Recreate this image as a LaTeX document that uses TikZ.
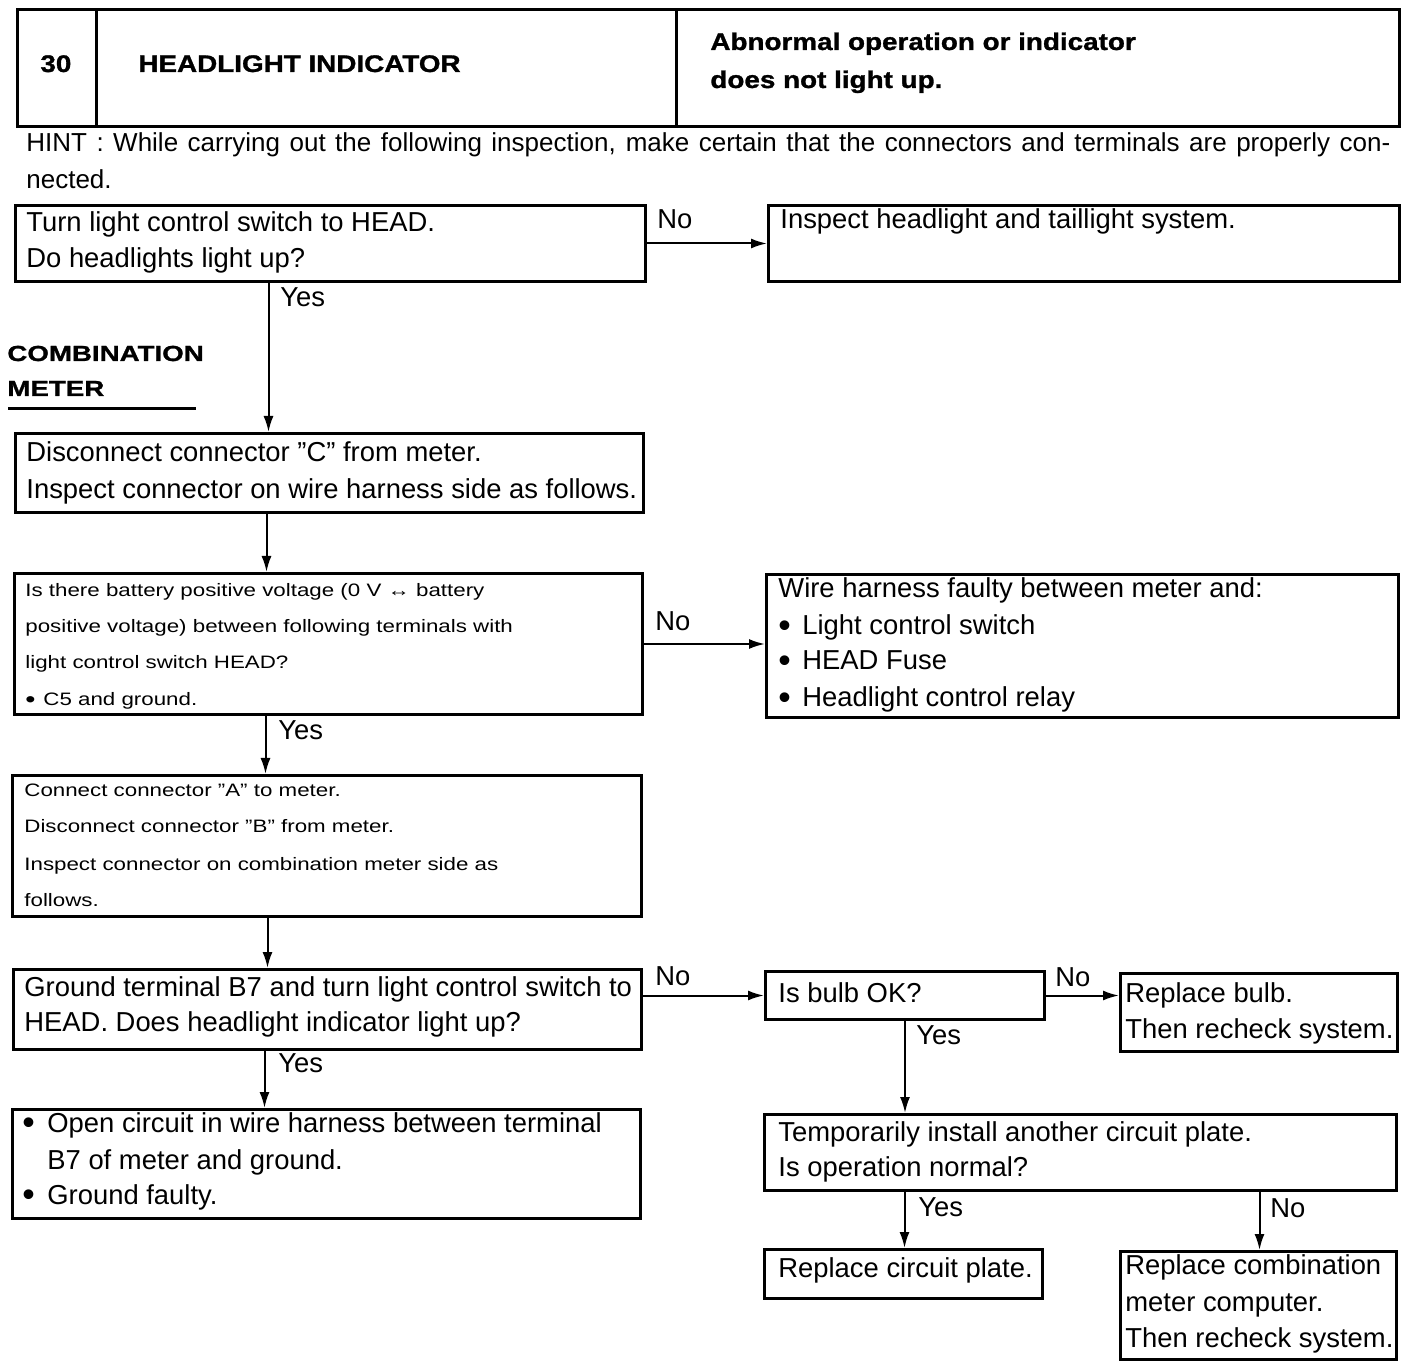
\documentclass[tikz,border=0pt]{standalone}
\usepackage{fontspec}
\usepackage{graphicx}
\setmainfont{Liberation Sans}
\newfontfamily\smallf[FakeStretch=1.24]{Liberation Sans}
\newfontfamily\boldf[FakeStretch=1.16,FakeBold=1.2]{Liberation Sans}
\newfontfamily\widef[FakeStretch=1.27,FakeBold=1.2]{Liberation Sans}
\newcommand\bul{\raisebox{-0.08em}{\scalebox{1.3}{•}}}
\usetikzlibrary{arrows.meta}
\tikzset{
  txt/.style={anchor=base west, inner sep=0pt, font=\fontsize{13.7}{18}\selectfont},
  stxt/.style={anchor=base west, inner sep=0pt, font=\smallf\fontsize{9}{18}\selectfont},
  btxt/.style={anchor=base west, inner sep=0pt, font=\boldf\bfseries\fontsize{12}{18}\selectfont},
  box/.style={draw, line width=1.5pt, inner sep=0pt, anchor=north west},
  arr/.style={line width=1pt, -{Latex[length=8pt,width=5pt]}},
}
\begin{document}
\begin{tikzpicture}[x=0.5pt,y=-0.5pt]
\fill[white] (0,0) rectangle (1408,1368);
\useasboundingbox (0,0) rectangle (1408,1368);

% header table
\node[box, minimum width=39.5pt, minimum height=58.5pt] (h1) at (16,8) {};
\node[box, minimum width=290pt, minimum height=58.5pt] (h2) at (95,8) {};
\node[box, minimum width=361.5pt, minimum height=58.5pt] (h3) at (675,8) {};
\node[btxt] (h1t) at (40,72) {30};
\node[btxt] (h2t) at (138,72) {HEADLIGHT INDICATOR};
\node[btxt] (h3a) at (710,50) {Abnormal operation or indicator};
\node[btxt] (h3b) at (710,88) {does not light up.};

% hint
\node[txt, font=\fontsize{13}{18}\selectfont] (hint1) at (26,152) {\makebox[682pt][s]{HINT : While carrying out the following inspection, make certain that the connectors and terminals are properly con-}};
\node[txt, font=\fontsize{13}{18}\selectfont] (hint2) at (26,189) {nected.};

% combination meter heading
\node[anchor=base west, inner sep=0pt, font=\widef\bfseries\fontsize{10.9}{18}\selectfont] (cm1) at (7,361) {COMBINATION};
\node[anchor=base west, inner sep=0pt, font=\widef\bfseries\fontsize{10.9}{18}\selectfont] (cm2) at (7,396) {METER};
\coordinate (ul1) at (8,409);
\coordinate (ul2) at (196,409);
\draw[line width=1.5pt] (ul1) -- (ul2);

% boxes
\node[box, minimum width=315pt, minimum height=38pt] (b1) at (14,204) {};
\node[box, minimum width=315.5pt, minimum height=38pt] (b2) at (767,204) {};
\node[box, minimum width=314pt, minimum height=39.5pt] (b3) at (14,432) {};
\node[box, minimum width=314pt, minimum height=70.5pt] (b4) at (13,572) {};
\node[box, minimum width=316pt, minimum height=71.5pt] (b5) at (765,573) {};
\node[box, minimum width=314.5pt, minimum height=70.5pt] (b6) at (11,774) {};
\node[box, minimum width=314pt, minimum height=40pt] (b7) at (12,968) {};
\node[box, minimum width=139.5pt, minimum height=24pt] (b8) at (764,970) {};
\node[box, minimum width=138.5pt, minimum height=39pt] (b9) at (1119,972) {};
\node[box, minimum width=316pt, minimum height=38pt] (b10) at (763,1113) {};
\node[box, minimum width=139pt, minimum height=24.5pt] (b11) at (763,1248) {};
\node[box, minimum width=138pt, minimum height=54pt] (b12) at (1119,1250) {};
\node[box, minimum width=314pt, minimum height=54.5pt] (b13) at (11,1108) {};

% texts
\node[txt] (t1a) at (26,232) {Turn light control switch to HEAD.};
\node[txt] (t1b) at (26,268) {Do headlights light up?};
\node[txt] (t2a) at (780,229) {Inspect headlight and taillight system.};
\node[txt] (t3a) at (26,462) {Disconnect connector ”C” from meter.};
\node[txt] (t3b) at (26,499) {Inspect connector on wire harness side as follows.};
\node[stxt] (t4a) at (25,597) {Is there battery positive voltage (0 V ↔ battery};
\node[stxt] (t4b) at (25,633) {positive voltage) between following terminals with};
\node[stxt] (t4c) at (25,669) {light control switch HEAD?};
\node[stxt] (t4d) at (25,706) {\makebox[9pt][l]{\bul}C5 and ground.};
\node[txt] (t5a) at (778,598) {Wire harness faulty between meter and:};
\node[txt] (t5b) at (778,635) {\makebox[12pt][l]{\bul}Light control switch};
\node[txt] (t5c) at (778,670) {\makebox[12pt][l]{\bul}HEAD Fuse};
\node[txt] (t5d) at (778,707) {\makebox[12pt][l]{\bul}Headlight control relay};
\node[stxt] (t6a) at (24,797) {Connect connector ”A” to meter.};
\node[stxt] (t6b) at (24,833) {Disconnect connector ”B” from meter.};
\node[stxt] (t6c) at (24,870) {Inspect connector on combination meter side as};
\node[stxt] (t6d) at (24,906) {follows.};
\node[txt] (t7a) at (24,996) {Ground terminal B7 and turn light control switch to};
\node[txt] (t7b) at (24,1031) {HEAD. Does headlight indicator light up?};
\node[txt] (t8a) at (778,1002) {Is bulb OK?};
\node[txt] (t9a) at (1125,1002) {Replace bulb.};
\node[txt] (t9b) at (1125,1038) {Then recheck system.};
\node[txt] (t10a) at (778,1141) {Temporarily install another circuit plate.};
\node[txt] (t10b) at (778,1176) {Is operation normal?};
\node[txt] (t11a) at (778,1277) {Replace circuit plate.};
\node[txt] (t12a) at (1125,1274) {Replace combination};
\node[txt] (t12b) at (1125,1311) {meter computer.};
\node[txt] (t12c) at (1125,1347) {Then recheck system.};
\node[txt] (t13a) at (22,1132) {\bul};
\node[txt] (t13b) at (47,1132) {Open circuit in wire harness between terminal};
\node[txt] (t13c) at (47,1169) {B7 of meter and ground.};
\node[txt] (t13d) at (22,1204) {\bul};
\node[txt] (t13e) at (47,1204) {Ground faulty.};

% labels
\node[txt] (l1) at (657,229) {No};
\node[txt] (l2) at (280,307) {Yes};
\node[txt] (l3) at (655,631) {No};
\node[txt] (l4) at (278,740) {Yes};
\node[txt] (l5) at (655,985) {No};
\node[txt] (l6) at (278,1072) {Yes};
\node[txt] (l7) at (1055,986) {No};
\node[txt] (l8) at (916,1044) {Yes};
\node[txt] (l9) at (918,1216) {Yes};
\node[txt] (l10) at (1270,1217) {No};

% connectors
\draw[arr] (b1.east) -- (b1.east -| b2.west);
\draw[arr] ([xshift=-31pt]b1.south) -- ([xshift=-31pt]b1.south |- b3.north);
\draw[arr] ([xshift=-31.5pt]b3.south) -- ([xshift=-31.5pt]b3.south |- b4.north);
\draw[arr] (b4.east) -- (b4.east -| b5.west);
\draw[arr] ([xshift=-31.5pt]b4.south) -- ([xshift=-31.5pt]b4.south |- b6.north);
\draw[arr] ([xshift=-29.75pt]b6.south) -- ([xshift=-29.75pt]b6.south |- b7.north);
\draw[arr] (b7.east |- b8.west) -- (b8.west);
\draw[arr] (b8.east) -- (b8.east -| b9.west);
\draw[arr] (b8.south) -- (b8.south |- b10.north);
\draw[arr] ([xshift=-88pt]b10.south) -- ([xshift=-88pt]b10.south |- b11.north);
\draw[arr] ([xshift=89.5pt]b10.south) -- ([xshift=89.5pt]b10.south |- b12.north);
\draw[arr] ([xshift=-31.5pt]b7.south) -- ([xshift=-31.5pt]b7.south |- b13.north);
\end{tikzpicture}
\end{document}
